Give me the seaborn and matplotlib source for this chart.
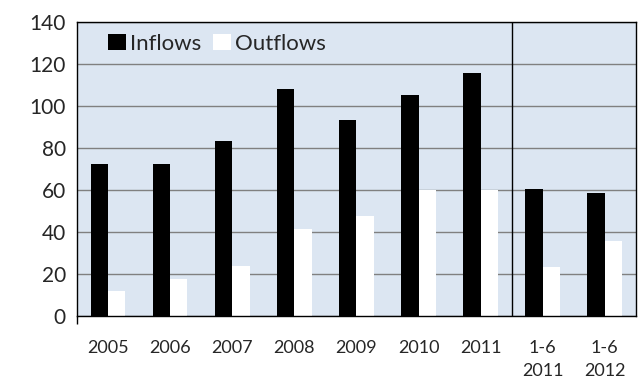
import matplotlib.pyplot as plt
import pandas as pd
import seaborn as sns

# --- data ---
periods = ["2005", "2006", "2007", "2008", "2009", "2010", "2011", "1-6\n2011", "1-6\n2012"]
inflows = [72.5, 72.5, 83.5, 108, 93.5, 105, 115.5, 60.5, 58.5]
outflows = [12, 17.5, 24, 41.5, 47.5, 60, 60, 23.5, 35.5]
y_ticks = [0, 20, 40, 60, 80, 100, 120, 140]

colors = {"Inflows": "#000000", "Outflows": "#FFFFFF"}
BG = "#DCE6F2"
GRID = "#808080"


def plot():
    df = pd.DataFrame({
        "period": periods * 2,
        "value": inflows + outflows,
        "series": ["Inflows"] * len(periods) + ["Outflows"] * len(periods),
    })

    sns.set_style("white")
    plt.rcParams["font.family"] = ["Lato", "DejaVu Sans"]

    fig, ax = plt.subplots(figsize=(6.41, 3.83), dpi=100)
    fig.subplots_adjust(left=0.120, right=0.992, top=0.943, bottom=0.175)

    sns.barplot(
        data=df,
        x="period",
        y="value",
        hue="series",
        order=periods,
        hue_order=["Inflows", "Outflows"],
        palette=colors,
        width=0.56,
        gap=0,
        linewidth=0,
        saturation=1,
        ax=ax,
    )

    ax.set_facecolor(BG)
    ax.set_axisbelow(True)
    ax.set_xlim(-0.5, len(periods) - 0.5)
    ax.set_ylim(0, 140)
    ax.set_yticks(y_ticks)
    ax.yaxis.grid(True, color=GRID, linewidth=1)
    ax.xaxis.grid(False)

    # separator between full years and half-year periods
    ax.axvline(6.5, color="black", linewidth=1)

    for side in ["left", "right", "top", "bottom"]:
        ax.spines[side].set_visible(True)
        ax.spines[side].set_color("black")
        ax.spines[side].set_linewidth(1)

    ax.tick_params(axis="y", direction="out", length=5, width=1, color="black",
                   labelsize=15, pad=3)
    ax.tick_params(axis="x", which="major", length=0, labelsize=13, pad=17)
    # small tick where the left spine meets the x axis
    ax.set_xticks([-0.5], minor=True)
    ax.tick_params(axis="x", which="minor", direction="out", length=6, width=1,
                   color="black", bottom=True)
    for lbl in ax.get_xticklabels():
        lbl.set_linespacing(1.6)
    ax.set_xlabel("")
    ax.set_ylabel("")

    handles, labels = ax.get_legend_handles_labels()
    ax.legend(
        handles,
        labels,
        loc="center left",
        bbox_to_anchor=(0.04, 0.925),
        ncol=2,
        frameon=False,
        fontsize=16,
        handlelength=0.8,
        handleheight=0.7,
        handletextpad=0.2,
        columnspacing=0.5,
        borderaxespad=0,
    )

    fig.savefig("out.png", dpi=100)


if __name__ == "__main__":
    plot()
